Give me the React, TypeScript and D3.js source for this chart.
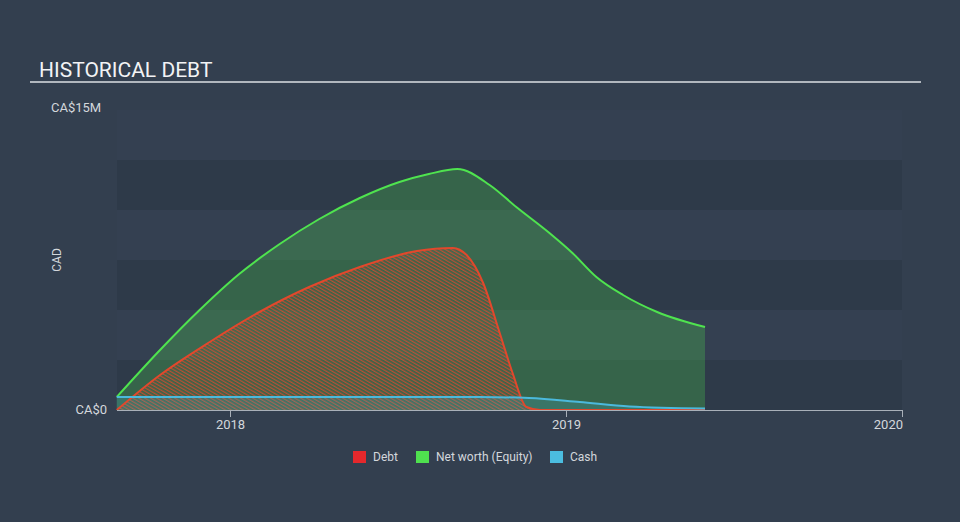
import React from "react";
import * as d3 from "d3";

const parse = d3.timeParse("%Y-%m-%d");

const equityDates = ["2017-08-31","2017-10-17","2017-11-29","2018-01-11","2018-02-24","2018-04-08","2018-05-22","2018-07-04","2018-08-05","2018-09-05","2018-10-10","2018-11-08","2018-12-14","2019-01-08","2019-02-03","2019-03-04","2019-04-10","2019-06-01"];
const equityValues = [0.65,3.0,5.0,6.8,8.3,9.55,10.6,11.4,11.8,12.05,11.25,10.15,8.85,7.85,6.65,5.75,4.9,4.15];

const debtDates = ["2017-08-31","2017-10-17","2017-12-10","2018-02-02","2018-03-28","2018-05-22","2018-07-23","2018-08-31","2018-09-15","2018-10-03","2018-10-21","2018-11-04","2018-11-19","2018-12-04","2019-03-04","2019-06-01"];
const debtValues = [0,1.75,3.4,4.9,6.15,7.15,7.95,8.1,7.75,6.35,3.85,1.85,0.15,0,0,0];

const cashDates = ["2017-08-31","2018-09-29","2018-11-22","2019-01-16","2019-03-11","2019-06-01"];
const cashValues = [0.65,0.65,0.6,0.4,0.18,0.08];

const xTicks = ["2018-01-01","2019-01-01","2020-01-01"];
const xTickLabels = ["2018","2019","2020"];
const yLabels = ["CA$0","CA$15M"];
const legendItems = ["Debt","Net worth (Equity)","Cash"];

const W = 960, H = 522;
const M = { left: 117, right: 902, top: 110, bottom: 410 };
const BG = "#333f4f";
const BAND = "#2e3a49";
const GREEN = "#4fe34f";
const RED = "#e2482c";
const CYAN = "#4bb9dc";
const TEXT = "#d3d7dc";

export default function App() {
  const t18 = parse("2018-01-01")!.getTime();
  const t20 = parse("2020-01-01")!.getTime();
  const perPx = (t20 - t18) / (902 - 230);
  const xs = d3.scaleTime().domain([new Date(t18 - perPx * (230 - M.left)), new Date(t20)]).range([M.left, M.right]);
  const y = d3.scaleLinear().domain([0, 15]).range([M.bottom, M.top]);

  const mk = (ds: string[], vs: number[]) => ds.map((d, i) => ({ d: parse(d)!, v: vs[i] }));
  const eq = mk(equityDates, equityValues);
  const debt = mk(debtDates, debtValues);
  const cash = mk(cashDates, cashValues);

  const line = d3.line<{ d: Date; v: number }>().x(p => xs(p.d)).y(p => y(p.v)).curve(d3.curveMonotoneX);
  const area = d3.area<{ d: Date; v: number }>().x(p => xs(p.d)).y0(y(0)).y1(p => y(p.v)).curve(d3.curveMonotoneX);

  const bands = [0, 2.5, 5, 7.5, 10, 12.5];

  const legendX = [353, 416, 550];
  const legendColors = ["#e5282c", "#4fe04f", "#4bbde0"];

  return (
    <svg width={W} height={H} style={{ position: "absolute", left: 0, top: 0, background: BG }}>
      <defs>
        <pattern id="hatch" width="3" height="3" patternUnits="userSpaceOnUse" patternTransform="rotate(-60)">
          <rect x="0" y="0" width="1.3" height="3" fill={RED} fillOpacity="0.75" />
        </pattern>
      </defs>
      <rect x={0} y={0} width={W} height={H} fill={BG} />
      {bands.map((b, i) => (
        <rect key={i} x={M.left} y={y(b + 2.5)} width={M.right - M.left} height={y(b) - y(b + 2.5)}
          fill={i % 2 === 0 ? BAND : "#344051"} />
      ))}
      <text x={39} y={77} fill="#f2f3f5" fontFamily="Roboto, sans-serif" fontSize={21}>HISTORICAL DEBT</text>
      <rect x={30} y={81} width={891} height={2} fill="#b1b7be" />
      <text x={51} y={112} fill={TEXT} fontFamily="Roboto, sans-serif" fontSize={13}>{yLabels[1]}</text>
      <text x={107} y={414} textAnchor="end" fill={TEXT} fontFamily="Roboto, sans-serif" fontSize={13}>{yLabels[0]}</text>
      <text transform={`translate(61,260) rotate(-90)`} textAnchor="middle" fill={TEXT} fontFamily="Roboto, sans-serif" fontSize={12}>CAD</text>

      <path d={area(eq)!} fill={GREEN} fillOpacity={0.25} />
      <path d={area(debt)!} fill="url(#hatch)" />
      <path d={area(cash)!} fill={CYAN} fillOpacity={0.2} />
      <path d={line(eq)!} fill="none" stroke={GREEN} strokeWidth={2} />
      <path d={line(debt)!} fill="none" stroke={RED} strokeWidth={2} />
      <path d={line(cash)!} fill="none" stroke={CYAN} strokeWidth={2} />

      <line x1={M.left} x2={M.right} y1={M.bottom + 0.5} y2={M.bottom + 0.5} stroke="#a9b0b9" strokeWidth={1} />
      {xTicks.map((t, i) => {
        const px = Math.round(xs(parse(t)!)) + 0.5;
        const last = i === xTicks.length - 1;
        return (
          <g key={t}>
            <line x1={px} x2={px} y1={M.bottom} y2={M.bottom + 7} stroke="#a9b0b9" />
            <text x={last ? px + 0.5 : px} y={429} textAnchor={last ? "end" : "middle"} fill={TEXT}
              fontFamily="Roboto, sans-serif" fontSize={13}>{xTickLabels[i]}</text>
          </g>
        );
      })}

      {legendItems.map((l, i) => (
        <g key={l}>
          <rect x={legendX[i]} y={451} width={13} height={12} fill={legendColors[i]} />
          <text x={legendX[i] + 20} y={461} fill={TEXT} fontFamily="Roboto, sans-serif" fontSize={12}>{l}</text>
        </g>
      ))}
    </svg>
  );
}
